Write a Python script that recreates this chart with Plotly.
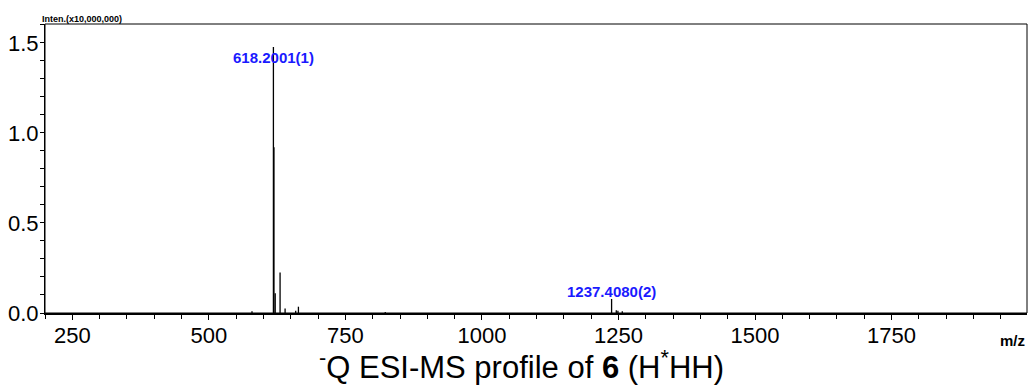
import plotly.graph_objects as go

# Centroided peaks (m/z, intensity in units of 10,000,000 counts)
mz = [579.0, 618.2001, 619.2, 621.5, 630.4, 639.6, 659.0, 664.0, 823.0,
      1237.4080, 1246.0, 1249.0, 1257.0]
intensity = [0.01, 1.477, 0.92, 0.11, 0.225, 0.025, 0.012, 0.035, 0.006,
             0.078, 0.015, 0.012, 0.01]

# Labelled peaks: (m/z, label)
labelled = [(618.2001, "618.2001(1)"), (1237.4080, "1237.4080(2)")]

x_ticks = [250, 500, 750, 1000, 1250, 1500, 1750]
y_ticks = [0.0, 0.5, 1.0, 1.5]

# Stick spectrum: each peak is a vertical segment from the baseline
xs, ys = [], []
for m, h in zip(mz, intensity):
    xs += [m, m, None]
    ys += [0, h, None]

fig = go.Figure()
fig.add_trace(go.Scatter(x=xs, y=ys, mode="lines",
                         line=dict(color="black", width=1.3),
                         hoverinfo="skip", showlegend=False))

font_family = "Arial, Liberation Sans, sans-serif"

fig.update_layout(
    width=1032, height=389,
    margin=dict(l=45, r=5, t=24, b=76),
    paper_bgcolor="white", plot_bgcolor="white",
    font=dict(family=font_family, color="black"),
    xaxis=dict(
        range=[200, 1998], showgrid=False, zeroline=False,
        showline=True, linecolor="black", linewidth=2,
        ticks="outside", ticklen=5, tickwidth=1, tickcolor="black",
        tickvals=x_ticks, ticktext=[str(v) for v in x_ticks],
        tickfont=dict(size=22, family=font_family),
        ticklabelstandoff=-3,
        minor=dict(dtick=50, ticks="outside", ticklen=4, tickcolor="black"),
    ),
    yaxis=dict(
        range=[0, 1.605], showgrid=False, zeroline=False,
        showline=True, linecolor="black", linewidth=1,
        ticks="outside", ticklen=4, tickwidth=1, tickcolor="black",
        tickvals=y_ticks, ticktext=["0.0", "0.5", "1.0", "1.5"],
        tickfont=dict(size=22, family=font_family),
        ticklabelstandoff=-3,
        minor=dict(dtick=0.1, ticks="outside", ticklen=4, tickcolor="black"),
    ),
)

# Frame around the plotting area
fig.add_shape(type="rect", xref="paper", yref="paper", x0=0, y0=0, x1=1, y1=1,
              line=dict(color="black", width=1))

# Peak labels
height_of = dict(zip(mz, intensity))
for (m, txt), shift in zip(labelled, [-10, 7]):
    fig.add_annotation(x=m, y=height_of[m], text=f"<b>{txt}</b>",
                       showarrow=False, yanchor="middle", yshift=shift,
                       font=dict(size=15, color="#1a1aff", family=font_family))

# Axis captions
fig.add_annotation(xref="paper", yref="paper", x=-0.005, y=1.0, yshift=5,
                   xanchor="left", yanchor="middle",
                   text="<b>Inten.(x10,000,000)</b>", showarrow=False,
                   font=dict(size=9, family=font_family))
fig.add_annotation(xref="paper", yref="paper", x=1.0, y=0, yshift=-27,
                   xanchor="right", yanchor="middle",
                   text="<b>m/z</b>", showarrow=False,
                   font=dict(size=15, family=font_family))

# Figure caption
fig.add_annotation(xref="paper", yref="paper", x=0.485, y=0, yshift=-52,
                   xanchor="center", yanchor="middle",
                   text="<sup>-</sup>Q ESI-MS profile of <b>6</b> (H<sup>*</sup>HH)",
                   showarrow=False, font=dict(size=31, family=font_family))

fig.write_html("out.html")
